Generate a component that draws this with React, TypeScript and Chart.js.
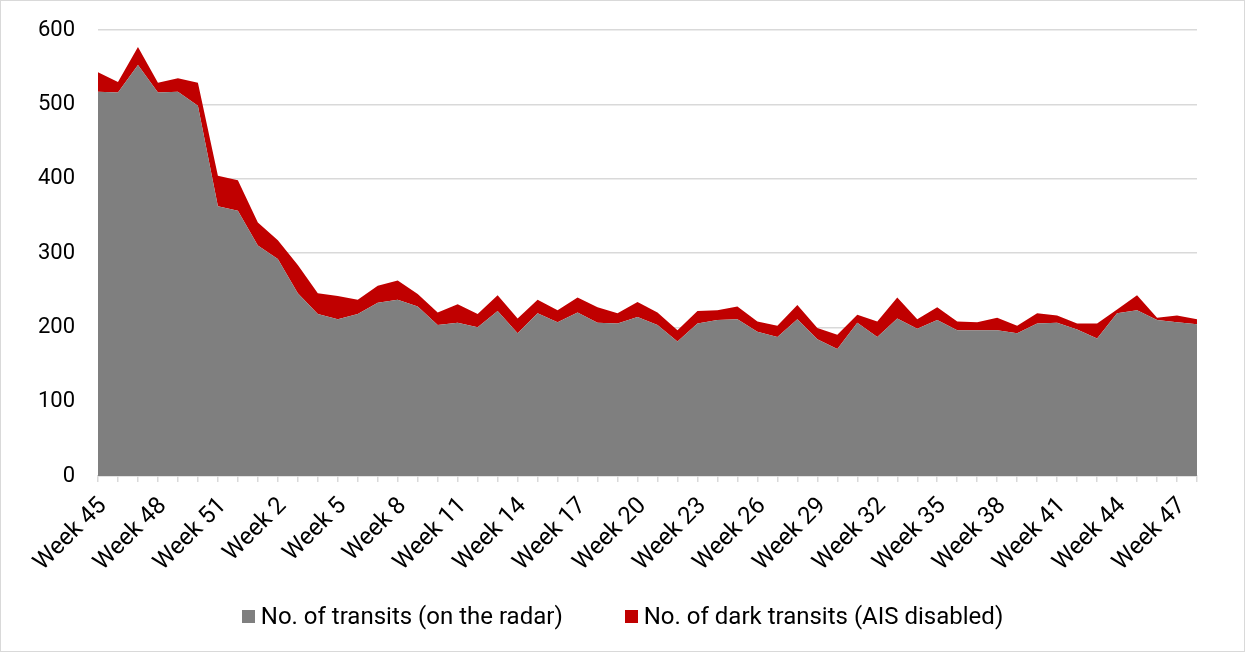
import React, { useEffect, useRef } from "react";
import { Chart, registerables } from "chart.js";

Chart.register(...registerables);

const weekLabels = [
  "Week 45", "Week 46", "Week 47", "Week 48", "Week 49", "Week 50", "Week 51", "Week 52",
  "Week 1", "Week 2", "Week 3", "Week 4", "Week 5", "Week 6", "Week 7", "Week 8",
  "Week 9", "Week 10", "Week 11", "Week 12", "Week 13", "Week 14", "Week 15", "Week 16",
  "Week 17", "Week 18", "Week 19", "Week 20", "Week 21", "Week 22", "Week 23", "Week 24",
  "Week 25", "Week 26", "Week 27", "Week 28", "Week 29", "Week 30", "Week 31", "Week 32",
  "Week 33", "Week 34", "Week 35", "Week 36", "Week 37", "Week 38", "Week 39", "Week 40",
  "Week 41", "Week 42", "Week 43", "Week 44", "Week 45", "Week 46", "Week 47", "Week 48",
];

const transits = [
  517, 516, 553, 516, 517, 498, 363, 357, 310, 292, 246, 218, 211, 218, 233, 237,
  228, 203, 206, 200, 222, 192, 219, 207, 220, 206, 205, 214, 203, 181, 205, 210,
  211, 194, 187, 211, 184, 171, 206, 187, 212, 198, 210, 196, 196, 196, 192, 205,
  206, 197, 185, 219, 223, 210, 207, 204,
];

const darkTransits = [
  26, 14, 24, 13, 18, 31, 41, 41, 31, 25, 38, 28, 31, 19, 23, 26,
  17, 17, 25, 18, 21, 20, 18, 16, 20, 21, 14, 20, 17, 15, 17, 13,
  17, 14, 15, 19, 15, 19, 11, 21, 28, 13, 17, 12, 11, 17, 10, 14,
  10, 8, 20, 5, 20, 3, 9, 7,
];

const seriesNames = ["No. of transits (on the radar)", "No. of dark transits (AIS disabled)"];
const seriesColors = ["#7f7f7f", "#c00000"];

const yTicks = [0, 100, 200, 300, 400, 500, 600];
const labelEvery = 3;

export default function App() {
  const canvasRef = useRef<HTMLCanvasElement | null>(null);

  useEffect(() => {
    document.body.style.margin = "0";
    const canvas = canvasRef.current;
    if (!canvas) return;
    const font = "Roboto";
    const chart = new Chart(canvas, {
      type: "line",
      data: {
        labels: weekLabels,
        datasets: [
          {
            label: seriesNames[0],
            data: transits,
            backgroundColor: seriesColors[0],
            borderColor: seriesColors[0],
            borderWidth: 0,
            pointRadius: 0,
            fill: "origin",
            tension: 0,
          },
          {
            label: seriesNames[1],
            data: darkTransits,
            backgroundColor: seriesColors[1],
            borderColor: seriesColors[1],
            borderWidth: 0,
            pointRadius: 0,
            fill: "-1",
            tension: 0,
          },
        ],
      },
      options: {
        responsive: false,
        animation: false,
        events: [],
        layout: { padding: { top: 29, right: 47, left: 0, bottom: 75 } },
        plugins: {
          tooltip: { enabled: false },
          legend: { display: false },
        },
        scales: {
          x: {
            offset: false,
            afterFit: (scale: any) => {
              scale.height = 100;
            },
            grid: {
              display: true,
              drawOnChartArea: false,
              drawTicks: true,
              tickLength: 6,
              color: "#d9d9d9",
              tickColor: "#d9d9d9",
              lineWidth: 1.5,
            },
            border: { display: true, color: "#d9d9d9", width: 1.5 },
            ticks: {
              autoSkip: false,
              maxRotation: 45,
              minRotation: 45,
              padding: 10,
              labelOffset: 5,
              font: { family: font, size: 24 },
              color: "#000",
              callback: (_v: any, i: number) => (i % labelEvery === 0 ? weekLabels[i] : ""),
            },
          },
          y: {
            stacked: true,
            min: yTicks[0],
            max: yTicks[yTicks.length - 1],
            afterFit: (scale: any) => {
              scale.width = 97;
            },
            afterBuildTicks: (scale: any) => {
              scale.ticks = yTicks.map((v) => ({ value: v }));
            },
            grid: {
              color: "#d9d9d9",
              lineWidth: 1.5,
              drawTicks: true,
              tickLength: 23,
              tickColor: "rgba(0,0,0,0)",
            },
            border: { display: false },
            ticks: {
              padding: 0,
              font: { family: font, size: 22 },
              color: "#000",
            },
          },
        },
      },
    });
    return () => chart.destroy();
  }, []);

  return (
    <div
      style={{
        position: "relative",
        width: 1245,
        height: 652,
        boxSizing: "border-box",
        border: "1px solid #d9d9d9",
        background: "#fff",
      }}
    >
      <canvas ref={canvasRef} width={1243} height={650} style={{ display: "block" }} />
      <div
        style={{
          position: "absolute",
          left: 0,
          right: 0,
          top: 600,
          height: 30,
          display: "flex",
          justifyContent: "center",
          alignItems: "center",
          gap: 62,
          fontFamily: "Roboto",
          fontSize: 24,
          color: "#000",
          whiteSpace: "nowrap",
        }}
      >
        {seriesNames.map((name, i) => (
          <div key={name} style={{ display: "flex", alignItems: "center", gap: 6 }}>
            <span
              style={{ width: 13, height: 13, background: seriesColors[i], display: "inline-block" }}
            />
            <span>{name}</span>
          </div>
        ))}
      </div>
    </div>
  );
}
